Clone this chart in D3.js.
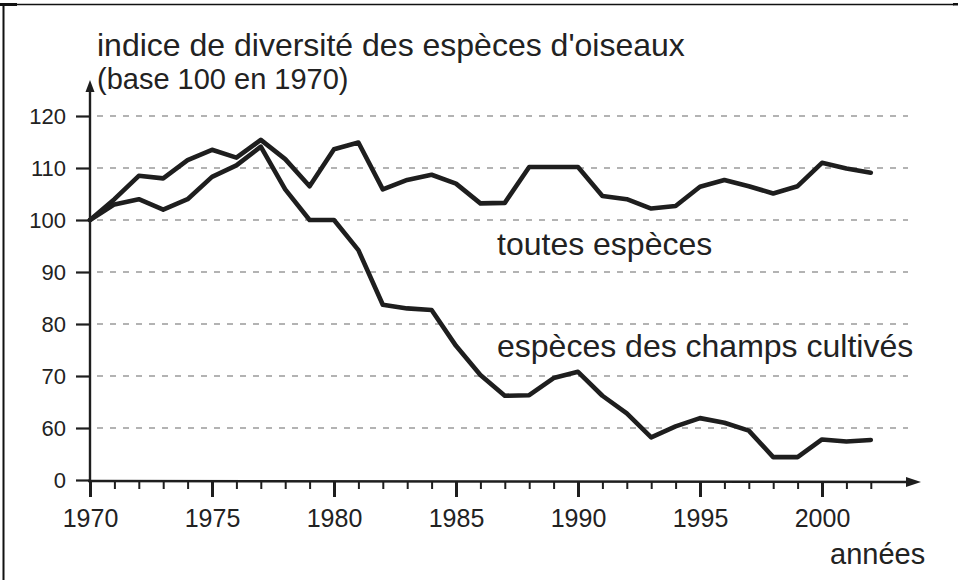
<!DOCTYPE html>
<html>
<head>
<meta charset="utf-8">
<script src="https://cdn.jsdelivr.net/npm/d3@7/dist/d3.min.js"></script>
<style>
  html, body { margin: 0; padding: 0; background: #fff; }
  svg { display: block; }
  text { font-family: "Liberation Sans", Arial, Helvetica, sans-serif; fill: #222; }
</style>
</head>
<body>
<svg id="chart" width="958" height="580"></svg>
<script>
// ---- data ----
const years = [1970,1971,1972,1973,1974,1975,1976,1977,1978,1979,1980,1981,1982,1983,1984,1985,1986,1987,1988,1989,1990,1991,1992,1993,1994,1995,1996,1997,1998,1999,2000,2001,2002];
const toutesEspeces = [100,104,108.5,108,111.5,113.5,112,115.4,111.7,106.5,113.6,114.9,105.9,107.7,108.7,107,103.2,103.3,110.2,110.2,110.2,104.6,104,102.2,102.7,106.4,107.7,106.5,105.1,106.5,111,109.9,109.1];
const champsCultives = [100,103,104,102,104,108.3,110.5,114.1,105.9,100,100,94.2,83.7,83,82.7,75.8,70.2,66.2,66.3,69.6,70.8,66.2,62.8,58.2,60.3,61.9,61,59.5,54.4,54.4,57.8,57.4,57.7];
const yTickValues = [50,60,70,80,90,100,110,120];
const yTickLabels = ["0","60","70","80","90","100","110","120"];
const gridValues = [60,70,80,90,100,110,120];
const xMajorTicks = [1970,1975,1980,1985,1990,1995,2000];
const xMinorTicks = d3.range(1970, 2003);
const titleLines = ["indice de diversité des espèces d'oiseaux", "(base 100 en 1970)"];
const seriesLabels = ["toutes espèces", "espèces des champs cultivés"];
const xAxisLabel = "années";

// ---- scales ----
const svg = d3.select("#chart");
const x = d3.scaleLinear().domain([1970, 2000]).range([90, 822]);
const y = d3.scaleLinear().domain([50, 120]).range([480, 116]);
const ink = "#1e1e1e";

// frame
svg.append("line").attr("x1", 3.5).attr("x2", 3.5).attr("y1", 4).attr("y2", 580).attr("stroke", "#111").attr("stroke-width", 2);
svg.append("line").attr("x1", 3).attr("x2", 954).attr("y1", 4.5).attr("y2", 4.5).attr("stroke", "#111").attr("stroke-width", 1.6);
svg.append("rect").attr("x", 0).attr("y", 3).attr("width", 17).attr("height", 3).attr("fill", "#111");
svg.append("rect").attr("x", 953).attr("y", 3).attr("width", 5).attr("height", 2.5).attr("fill", "#111");

// gridlines
svg.append("g").selectAll("line").data(gridValues).join("line")
  .attr("x1", 97).attr("x2", 908)
  .attr("y1", d => y(d)).attr("y2", d => y(d))
  .attr("stroke", "#9a9a9a").attr("stroke-width", 1.6)
  .attr("stroke-dasharray", "6,7");

// y axis ticks + labels
const yAxis = d3.axisLeft(y).tickValues(yTickValues).tickSize(14).tickPadding(10)
  .tickFormat((d, i) => yTickLabels[i]);
const gy = svg.append("g").attr("transform", "translate(90,0)").call(yAxis);
gy.select(".domain").remove();
gy.selectAll(".tick line").attr("stroke", ink).attr("stroke-width", 2.2);
gy.selectAll(".tick text").attr("font-size", 22).attr("fill", "#222")
  .attr("font-family", '"Liberation Sans", Arial, sans-serif');

// y axis line with arrow
svg.append("line").attr("x1", 90).attr("x2", 90).attr("y1", y(50) + 2).attr("y2", 88)
  .attr("stroke", ink).attr("stroke-width", 2.4);
svg.append("path").attr("d", `M90,80 L85.5,92 L94.5,92 Z`).attr("fill", ink);

// x axis: minor ticks
const xMinor = d3.axisBottom(x).tickValues(xMinorTicks).tickSize(8).tickFormat("");
const gxm = svg.append("g").attr("transform", `translate(0,${y(50) + 1})`).call(xMinor);
gxm.select(".domain").remove();
gxm.selectAll(".tick line").attr("stroke", ink).attr("stroke-width", 2);

// x axis: major ticks + labels
const xMajor = d3.axisBottom(x).tickValues(xMajorTicks).tickSize(16).tickPadding(12).tickFormat(d3.format("d"));
const gx = svg.append("g").attr("transform", `translate(0,${y(50) + 1})`).call(xMajor);
gx.select(".domain").remove();
gx.selectAll(".tick line").attr("stroke", ink).attr("stroke-width", 3);
gx.selectAll(".tick text").attr("font-size", 25).attr("fill", "#222")
  .attr("font-family", '"Liberation Sans", Arial, sans-serif');

// x axis line with arrow
svg.append("line").attr("x1", 88).attr("x2", 910).attr("y1", y(50) + 1).attr("y2", y(50) + 2)
  .attr("stroke", ink).attr("stroke-width", 2.4);
svg.append("path").attr("d", `M921,${y(50) + 2} L906,${y(50) - 3} L906,${y(50) + 7} Z`).attr("fill", ink);

// series lines
const line = d3.line().x((d, i) => x(years[i])).y(d => y(d)).curve(d3.curveLinear);
[toutesEspeces, champsCultives].forEach(s => {
  svg.append("path").datum(s).attr("d", line)
    .attr("fill", "none").attr("stroke", ink).attr("stroke-width", 4.6)
    .attr("stroke-linejoin", "round").attr("stroke-linecap", "round");
});

// texts
svg.append("text").attr("x", 97).attr("y", 56).attr("font-size", 32).text(titleLines[0]);
svg.append("text").attr("x", 97).attr("y", 89).attr("font-size", 29).text(titleLines[1]);
svg.append("text").attr("x", 497).attr("y", 255).attr("font-size", 32).text(seriesLabels[0]);
svg.append("text").attr("x", 497).attr("y", 357).attr("font-size", 32).text(seriesLabels[1]);
svg.append("text").attr("x", 830).attr("y", 564).attr("font-size", 29).text(xAxisLabel);
</script>
</body>
</html>
